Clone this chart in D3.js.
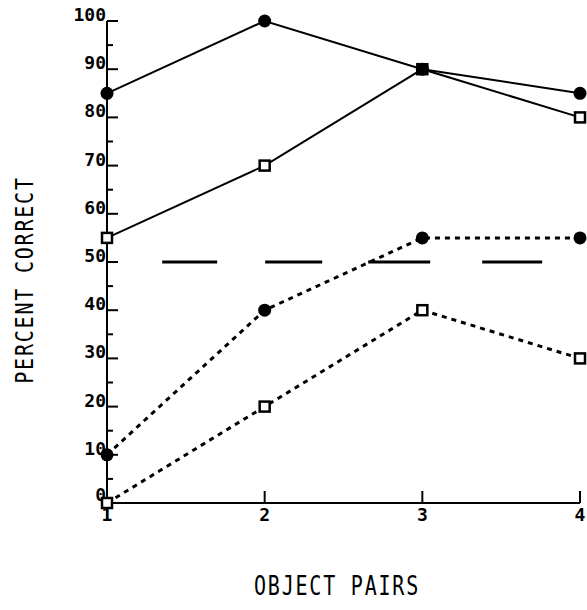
<!DOCTYPE html>
<html>
  <head>
    <meta charset="UTF-8" />
    <style>
      body { margin: 0; background: #fff; }
      text { font-family: "DejaVu Sans Mono", monospace; fill: #000; }
    </style>
  </head>
  <body>
    <svg></svg>
    <script src="https://d3js.org/d3.v7.min.js"></script>
    <script>
      let width = 587,
        height = 610;

      // data
      let pairs = [1, 2, 3, 4];
      let solidCircle = [85, 100, 90, 85];
      let solidSquare = [55, 70, 90, 80];
      let dottedCircle = [10, 40, 55, 55];
      let dottedSquare = [0, 20, 40, 30];
      let chance = 50;
      let chanceSpan = [1.35, 3.76];
      let yTicks = [0, 10, 20, 30, 40, 50, 60, 70, 80, 90, 100];
      let yMinor = [5, 15, 25, 35, 45, 55, 65, 75, 85, 95];

      let svg = d3.select("svg").attr("width", width).attr("height", height);

      let x = d3.scaleLinear().domain([1, 4]).range([107, 580]);
      let y = d3.scaleLinear().domain([0, 100]).range([503, 21]);

      // axes
      svg.append("line")
        .attr("x1", x(1)).attr("x2", x(1))
        .attr("y1", y(100)).attr("y2", y(-3.5))
        .attr("stroke", "#000").attr("stroke-width", 2);
      svg.append("line")
        .attr("x1", x(1)).attr("x2", x(4))
        .attr("y1", y(0)).attr("y2", y(0))
        .attr("stroke", "#000").attr("stroke-width", 2);

      svg.append("g").selectAll("line")
        .data(yTicks)
        .join("line")
        .attr("x1", x(1)).attr("x2", x(1) + 11)
        .attr("y1", (d) => y(d)).attr("y2", (d) => y(d))
        .attr("stroke", "#000").attr("stroke-width", 2);
      svg.append("g").selectAll("line")
        .data(yMinor)
        .join("line")
        .attr("x1", x(1)).attr("x2", x(1) + 6)
        .attr("y1", (d) => y(d)).attr("y2", (d) => y(d))
        .attr("stroke", "#000").attr("stroke-width", 2);
      svg.append("g").selectAll("text")
        .data(yTicks)
        .join("text")
        .attr("x", x(1) - 1)
        .attr("y", (d) => y(d) - (d === 0 ? 2 : 0))
        .attr("text-anchor", "end")
        .attr("font-size", 18)
        .attr("font-weight", "bold")
        .text((d) => d);

      svg.append("g").selectAll("line")
        .data(pairs.slice(1))
        .join("line")
        .attr("x1", (d) => x(d)).attr("x2", (d) => x(d))
        .attr("y1", y(0)).attr("y2", y(0) - 12)
        .attr("stroke", "#000").attr("stroke-width", 2);
      svg.append("g").selectAll("text")
        .data(pairs)
        .join("text")
        .attr("x", (d) => x(d))
        .attr("y", y(0) + 18)
        .attr("text-anchor", "middle")
        .attr("font-size", 18)
        .attr("font-weight", "bold")
        .text((d) => d);

      // titles
      svg.append("text")
        .attr("transform", "translate(33,280) rotate(-90) scale(1,1.25)")
        .attr("text-anchor", "middle")
        .attr("font-size", 20)
        .attr("letter-spacing", 1.8)
        .text("PERCENT CORRECT");
      svg.append("text")
        .attr("transform", "translate(337,595) scale(1,1.3)")
        .attr("text-anchor", "middle")
        .attr("font-size", 20)
        .attr("letter-spacing", 1.8)
        .text("OBJECT PAIRS");

      // chance line
      svg.append("line")
        .attr("x1", x(chanceSpan[0])).attr("x2", x(chanceSpan[1]))
        .attr("y1", y(chance)).attr("y2", y(chance))
        .attr("stroke", "#000").attr("stroke-width", 3)
        .attr("stroke-dasharray", "55 48 57 46 62 52 60");

      let line = d3.line()
        .x((d, i) => x(pairs[i]))
        .y((d) => y(d));

      let series = [
        { values: solidSquare, dash: null, marker: "square" },
        { values: solidCircle, dash: null, marker: "circle" },
        { values: dottedSquare, dash: "5 5", marker: "square" },
        { values: dottedCircle, dash: "5 5", marker: "circle" },
      ];

      series.forEach((s) => {
        svg.append("path")
          .attr("d", line(s.values))
          .attr("fill", "none")
          .attr("stroke", "#000")
          .attr("stroke-width", s.dash ? 3 : 2)
          .attr("stroke-dasharray", s.dash);
      });

      series.forEach((s) => {
        let g = svg.append("g");
        if (s.marker === "circle") {
          g.selectAll("circle")
            .data(s.values)
            .join("circle")
            .attr("cx", (d, i) => x(pairs[i]))
            .attr("cy", (d) => y(d))
            .attr("r", 6.5)
            .attr("fill", "#000");
        } else {
          g.selectAll("rect")
            .data(s.values)
            .join("rect")
            .attr("x", (d, i) => x(pairs[i]) - 5)
            .attr("y", (d) => y(d) - 5)
            .attr("width", 10)
            .attr("height", 10)
            .attr("fill", "#fff")
            .attr("stroke", "#000")
            .attr("stroke-width", 2.5);
        }
      });
    </script>
  </body>
</html>
